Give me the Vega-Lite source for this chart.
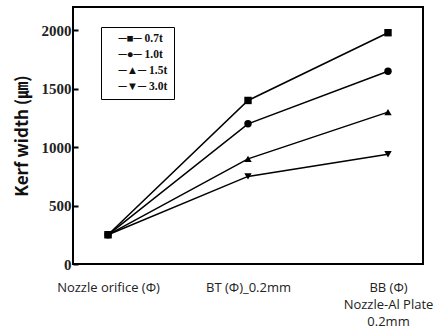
{
  "$schema": "https://vega.github.io/schema/vega-lite/v6.json",
  "width": 350,
  "height": 257,
  "autosize": {"type": "none"},
  "padding": {"left": 73, "top": 7, "right": 20, "bottom": 64},
  "background": "white",
  "config": {
    "view": {"stroke": "black", "strokeWidth": 2},
    "axis": {"grid": false}
  },
  "data": {
    "values": [
      {"cond": "Nozzle orifice (Φ)", "series": "0.7t", "value": 250},
      {"cond": "BT (Φ)_0.2mm", "series": "0.7t", "value": 1400},
      {"cond": "BB (Φ) Nozzle-Al Plate 0.2mm", "series": "0.7t", "value": 1980},
      {"cond": "Nozzle orifice (Φ)", "series": "1.0t", "value": 250},
      {"cond": "BT (Φ)_0.2mm", "series": "1.0t", "value": 1200},
      {"cond": "BB (Φ) Nozzle-Al Plate 0.2mm", "series": "1.0t", "value": 1650},
      {"cond": "Nozzle orifice (Φ)", "series": "1.5t", "value": 250},
      {"cond": "BT (Φ)_0.2mm", "series": "1.5t", "value": 900},
      {"cond": "BB (Φ) Nozzle-Al Plate 0.2mm", "series": "1.5t", "value": 1300},
      {"cond": "Nozzle orifice (Φ)", "series": "3.0t", "value": 250},
      {"cond": "BT (Φ)_0.2mm", "series": "3.0t", "value": 750},
      {"cond": "BB (Φ) Nozzle-Al Plate 0.2mm", "series": "3.0t", "value": 940}
    ]
  },
  "encoding": {
    "x": {
      "field": "cond",
      "type": "nominal",
      "sort": ["Nozzle orifice (Φ)", "BT (Φ)_0.2mm", "BB (Φ) Nozzle-Al Plate 0.2mm"],
      "scale": {"type": "point", "padding": 0.25},
      "axis": {
        "title": null,
        "domain": false,
        "ticks": false,
        "labelAngle": 0,
        "labelPadding": 17,
        "labelFont": "Open Sans",
        "labelFontSize": 13,
        "labelColor": "#222",
        "labelLineHeight": 17,
        "labelBaseline": "top",
        "labelExpr": "datum.value == 'BB (Φ) Nozzle-Al Plate 0.2mm' ? ['BB  (Φ)', 'Nozzle-Al  Plate', '0.2mm'] : datum.value == 'Nozzle orifice (Φ)' ? 'Nozzle orifice (Φ)' : 'BT  (Φ)_0.2mm'"
      }
    },
    "y": {
      "field": "value",
      "type": "quantitative",
      "scale": {"domain": [0, 2200], "nice": false},
      "axis": {
        "title": "Kerf width (㎛)",
        "titleFont": "Noto Sans CJK KR",
        "titleFontSize": 17,
        "titleFontWeight": "bold",
        "titleColor": "#111",
        "titlePadding": 10,
        "values": [0, 500, 1000, 1500, 2000],
        "format": "d",
        "domain": false,
        "tickSize": -5,
        "tickColor": "black",
        "tickWidth": 2,
        "labelPadding": 7,
        "labelFont": "Liberation Serif",
        "labelFontSize": 15,
        "labelFontWeight": "bold",
        "labelColor": "#222"
      }
    }
  },
  "layer": [
    {
      "mark": {"type": "line", "color": "black", "strokeWidth": 1.5},
      "encoding": {"detail": {"field": "series"}}
    },
    {
      "mark": {"type": "point", "filled": true, "color": "black", "opacity": 1, "size": 55},
      "encoding": {
        "shape": {
          "field": "series",
          "type": "nominal",
          "scale": {"domain": ["0.7t", "1.0t", "1.5t", "3.0t"], "range": ["square", "circle", "triangle-up", "triangle-down"]},
          "legend": {
            "title": null,
            "orient": "none",
            "legendX": 28,
            "legendY": 20,
            "strokeColor": "black",
            "padding": 6,
            "symbolSize": 0,
            "symbolOpacity": 0,
            "labelFont": "Liberation Serif",
            "labelFontSize": 11.5,
            "labelFontWeight": "bold",
            "labelColor": "#111",
            "labelOffset": 0,
            "rowPadding": 3,
            "labelExpr": "'─' + (datum.label == '0.7t' ? '■' : datum.label == '1.0t' ? '●' : datum.label == '1.5t' ? '▲' : '▼') + '─ ' + datum.label"
          }
        }
      }
    }
  ]
}
